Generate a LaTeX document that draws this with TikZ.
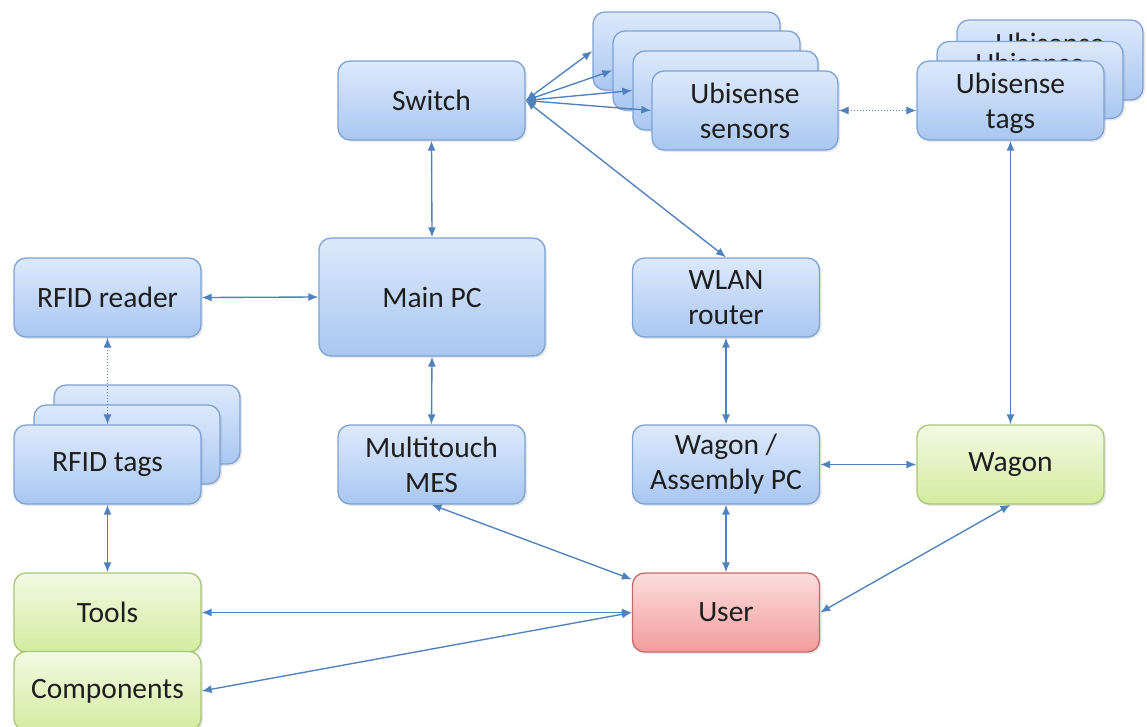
\documentclass[tikz,border=0pt]{standalone}
\usepackage{fontspec}
\setmainfont{Carlito}
\usetikzlibrary{arrows.meta,shadows,calc}
\definecolor{linec}{HTML}{4F81BD}
\definecolor{bluetop}{HTML}{DDE9FC}
\definecolor{bluebot}{HTML}{A9C7F1}
\definecolor{blueedge}{HTML}{7EA2D4}
\definecolor{greentop}{HTML}{F3FAE3}
\definecolor{greenbot}{HTML}{D3ECA0}
\definecolor{greenedge}{HTML}{A9C677}
\definecolor{redtop}{HTML}{FCDDDD}
\definecolor{redbot}{HTML}{F39C9C}
\definecolor{rededge}{HTML}{C46A6A}
\definecolor{txt}{HTML}{1E1E1E}
\tikzset{
  lbl/.style={inner sep=0pt, align=center, text=txt, font=\fontsize{29.5}{35}\selectfont},
  box/.style={lbl, draw=blueedge, line width=1.3pt, rounded corners=12pt,
    top color=bluetop, bottom color=bluebot,
    minimum width=187pt, minimum height=79pt,
    drop shadow={opacity=0.18, shadow xshift=2pt, shadow yshift=-2pt}},
  gbox/.style={box, draw=greenedge, top color=greentop, bottom color=greenbot},
  rbox/.style={box, draw=rededge, top color=redtop, bottom color=redbot},
  conn/.style={draw=linec, line width=1.35pt, {Latex[length=10pt,width=8pt]}-{Latex[length=10pt,width=8pt]}},
  dconn/.style={conn, line width=1pt, dotted},
}
\begin{document}
\begin{tikzpicture}[x=1pt,y=-1pt]
\useasboundingbox (0,0) rectangle (1147,726);
\fill[white] (0,0) rectangle (1147,726);

% Ubisense sensors stack
\node[box, minimum width=187pt, minimum height=78pt] (s1) at (686.5,51) {};
\node[box, minimum width=187pt, minimum height=79pt] (s2) at (706.5,70.5) {};
\node[box, minimum width=185pt, minimum height=79pt] (s3) at (725.5,90.5) {};
\node[box, minimum width=186pt] (s4) at (745,110.5) {Ubisense\\sensors};

% Ubisense tags stack
\node[box, minimum width=186pt, minimum height=80pt] (t1) at (1050,60) {};
\node[lbl] (t1txt) at ($(t1.center)+(0,3)$) {Ubisense\\tags};
\node[box, minimum width=186pt, minimum height=77pt] (t2) at (1030,80) {};
\node[lbl] (t2txt) at ($(t2.center)+(0,3)$) {Ubisense\\tags};
\node[box] (t3) at (1010.5,100.5) {};
\node[lbl] (t3txt) at ($(t3.center)+(0,3)$) {Ubisense\\tags};

% RFID tags stack
\node[box, minimum width=186pt] (r1) at (147,424.5) {};
\node[box, minimum width=186pt] (r2) at (127,444.5) {};
\node[box] (rtags) at (107.5,464.5) {RFID tags};

\node[box] (switch) at (431.5,100.5) {Switch};
\node[box, minimum width=226pt, minimum height=118pt] (main) at (432,297) {Main PC};
\node[box] (reader) at (107.5,297.5) {RFID reader};
\node[box] (wlan) at (726,297.5) {WLAN\\router};
\node[box] (mes) at (431.5,464.5) {Multitouch\\MES};
\node[box] (wpc) at (726,464.5) {Wagon /\\Assembly PC};
\node[gbox] (wagon) at (1010.5,464.5) {Wagon};
\node[gbox] (tools) at (107.5,612.5) {Tools};
\node[gbox] (comp) at (107.5,691) {Components};
\node[rbox] (user) at (726,612.5) {User};

% connectors
\draw[conn] (switch.south) -- (main.north);
\draw[conn] (switch.east) -- (s1.west);
\draw[conn] (switch.east) -- (s2.west);
\draw[conn] (switch.east) -- (s3.west);
\draw[conn] (switch.east) -- (s4.west);
\draw[conn] (switch.east) -- (wlan.north);
\draw[dconn] (s4.east) -- (s4.east -| t3.west);
\draw[conn] (t3.south) -- (wagon.north);
\draw[conn] (reader.east) -- (main.west);
\draw[dconn] (reader.south) -- (rtags.north);
\draw[conn] (main.south) -- (mes.north);
\draw[conn] (wlan.south) -- (wpc.north);
\draw[conn] (wpc.east) -- (wagon.west);
\draw[conn] (rtags.south) -- (tools.north);
\draw[conn] (mes.south) -- ($(user.north west)+(0,7)$);
\draw[conn] (wpc.south) -- (user.north);
\draw[conn] (wagon.south) -- (user.east);
\draw[conn] (tools.east) -- (user.west);
\draw[conn] (comp.east) -- (user.west);
\end{tikzpicture}
\end{document}
